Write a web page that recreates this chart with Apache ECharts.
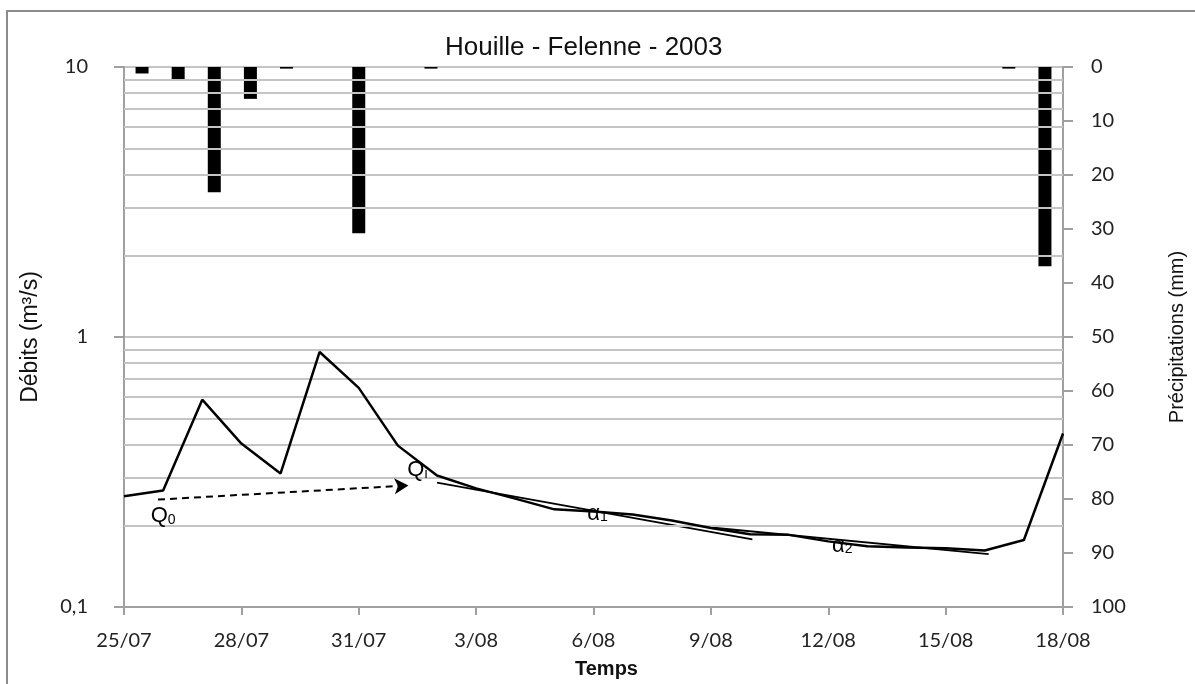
<!DOCTYPE html>
<html lang="fr">
<head>
    <meta charset="UTF-8">
    <title>Houille - Felenne - 2003</title>
    <style>
        html, body { margin: 0; padding: 0; background: #fff; }
        #chart { width: 1195px; height: 684px; }
    </style>
</head>
<body>
    <div id="chart"></div>
    <script src="https://cdn.jsdelivr.net/npm/echarts@6/dist/echarts.min.js"></script>
    <script>
        // jours (axe des temps), 25/07 -> 18/08
        var dates = ['25/07', '26/07', '27/07', '28/07', '29/07', '30/07', '31/07', '1/08', '2/08',
            '3/08', '4/08', '5/08', '6/08', '7/08', '8/08', '9/08', '10/08', '11/08', '12/08',
            '13/08', '14/08', '15/08', '16/08', '17/08', '18/08'];
        // débits journaliers (m3/s)
        var debits = [0.257, 0.270, 0.586, 0.403, 0.312, 0.880, 0.648, 0.396, 0.307, 0.275, 0.252,
            0.230, 0.226, 0.220, 0.209, 0.196, 0.186, 0.185, 0.175, 0.168, 0.166, 0.165, 0.162,
            0.177, 0.439];
        // précipitations (mm), 26 barres
        var pluie = [1.2, 2.5, 23.2, 5.9, 0.3, 0, 30.8, 0, 0.3, 0, 0, 0, 0, 0, 0, 0, 0, 0, 0, 0,
            0, 0, 0, 0, 0.3, 36.9];
        // droites de tarissement [jour, débit]
        var alpha1 = [[8.0, 0.289], [16.06, 0.178]];
        var alpha2 = [[15.0, 0.197], [22.1, 0.157]];
        // flèche Q0 -> Qi
        var fleche = [[0.87, 0.250], [7.27, 0.282]];
        // annotations [jour, débit, texte]
        var notes = [
            [1.0, 0.217, 'Q{s|0}'],
            [7.5, 0.322, 'Q{s|i}'],
            [12.1, 0.222, 'α{s|1}'],
            [18.36, 0.169, 'α{s|2}']
        ];
        // lignes secondaires de l'échelle log
        var mineures = [0.2, 0.3, 0.4, 0.5, 0.6, 0.7, 0.8, 0.9, 2, 3, 4, 5, 6, 7, 8, 9];

        var chart = echarts.init(document.getElementById('chart'));
        var txt = '#222';
        var axe = '#a0a0a0';
        var grille = '#c4c4c4';
        var police = 'Lato';

        var option = {
            backgroundColor: '#fff',
            animation: false,
            title: {
                text: 'Houille - Felenne - 2003',
                left: 440,
                top: 30,
                textStyle: { fontFamily: 'Liberation Sans', fontSize: 26, fontWeight: 'normal', color: '#111' }
            },
            graphic: [{
                type: 'rect',
                shape: { x: 7, y: 11, width: 1300, height: 800 },
                style: { fill: 'none', stroke: '#8c8c8c', lineWidth: 2 },
                silent: true
            }],
            grid: { left: 124, right: 131, top: 67, bottom: 75 },
            xAxis: [{
                type: 'value',
                min: 0,
                max: 24,
                interval: 3,
                name: 'Temps',
                nameLocation: 'middle',
                nameGap: 52,
                nameTextStyle: { fontFamily: 'Liberation Sans', fontSize: 20, fontWeight: 600, color: '#111', padding: [0, 0, 0, 26] },
                axisLine: { show: true, onZero: false, lineStyle: { color: axe, width: 2 } },
                axisTick: { show: true, length: 8, lineStyle: { color: axe, width: 2 } },
                axisLabel: {
                    margin: 24,
                    fontFamily: police,
                    fontSize: 20,
                    color: txt,
                    formatter: function (v) { return dates[v]; }
                },
                splitLine: { show: false }
            }, {
                type: 'category',
                data: pluie.map(function (v, i) { return i; }),
                show: false,
                boundaryGap: true,
                axisLine: { show: false, onZero: false },
                axisTick: { show: false },
                axisLabel: { show: false },
                splitLine: { show: false }
            }],
            yAxis: [{
                type: 'log',
                logBase: 10,
                min: 0.1,
                max: 10,
                name: 'Débits (m³/s)',
                nameLocation: 'middle',
                nameGap: 82,
                nameRotate: 90,
                nameTextStyle: { fontFamily: 'Liberation Sans', fontSize: 23, color: '#111' },
                axisLine: { show: true, onZero: false, lineStyle: { color: axe, width: 2 } },
                axisTick: { show: true, length: 10, lineStyle: { color: axe, width: 2 } },
                axisLabel: {
                    margin: 36,
                    fontFamily: police,
                    fontSize: 20,
                    color: txt,
                    formatter: function (v) { return String(v).replace('.', ','); }
                },
                splitLine: { show: true, lineStyle: { color: grille, width: 2 } }
            }, {
                type: 'value',
                inverse: true,
                min: 0,
                max: 100,
                interval: 10,
                name: 'Précipitations (mm)',
                nameLocation: 'middle',
                nameGap: 104,
                nameRotate: 90,
                nameTextStyle: { fontFamily: 'Liberation Sans', fontSize: 20, color: '#111' },
                axisLine: { show: true, onZero: false, lineStyle: { color: axe, width: 2 } },
                axisTick: { show: true, length: 10, lineStyle: { color: axe, width: 2 } },
                axisLabel: { margin: 28, fontFamily: police, fontSize: 20, color: txt },
                splitLine: { show: false }
            }],
            series: [{
                // grille secondaire
                type: 'line',
                data: [],
                z: 1,
                silent: true,
                markLine: {
                    silent: true,
                    symbol: ['none', 'none'],
                    label: { show: false },
                    lineStyle: { color: grille, width: 2, type: 'solid' },
                    data: mineures.map(function (v) { return { yAxis: v }; })
                }
            }, {
                name: 'Précipitations',
                type: 'bar',
                xAxisIndex: 1,
                yAxisIndex: 1,
                barWidth: 13,
                z: 3,
                itemStyle: { color: '#000' },
                data: pluie
            }, {
                name: 'Débits',
                type: 'line',
                z: 5,
                symbol: 'none',
                lineStyle: { color: '#000', width: 2.5 },
                data: debits.map(function (v, i) { return [i, v]; }),
                markLine: {
                    silent: true,
                    symbol: ['none', 'arrow'],
                    symbolSize: [12, 14],
                    label: { show: false },
                    lineStyle: { color: '#000', width: 2, type: [7, 5] },
                    data: [[{ coord: fleche[0] }, { coord: fleche[1] }]]
                }
            }, {
                name: 'alpha1',
                type: 'line',
                z: 4,
                symbol: 'none',
                lineStyle: { color: '#000', width: 1.8 },
                data: alpha1
            }, {
                name: 'alpha2',
                type: 'line',
                z: 4,
                symbol: 'none',
                lineStyle: { color: '#000', width: 1.8 },
                data: alpha2
            }, {
                name: 'notes',
                type: 'scatter',
                z: 6,
                symbolSize: 0,
                silent: true,
                itemStyle: { opacity: 1 },
                label: {
                    show: true,
                    position: 'inside',
                    fontFamily: 'Liberation Sans',
                    fontSize: 22,
                    color: '#000',
                    opacity: 1,
                    textBorderWidth: 0,
                    formatter: function (p) { return p.data[2]; },
                    rich: {
                        s: { fontFamily: 'Liberation Sans', fontSize: 14, color: '#000', lineHeight: 8, verticalAlign: 'bottom' }
                    }
                },
                data: notes
            }]
        };
        chart.setOption(option);
    </script>
</body>
</html>
